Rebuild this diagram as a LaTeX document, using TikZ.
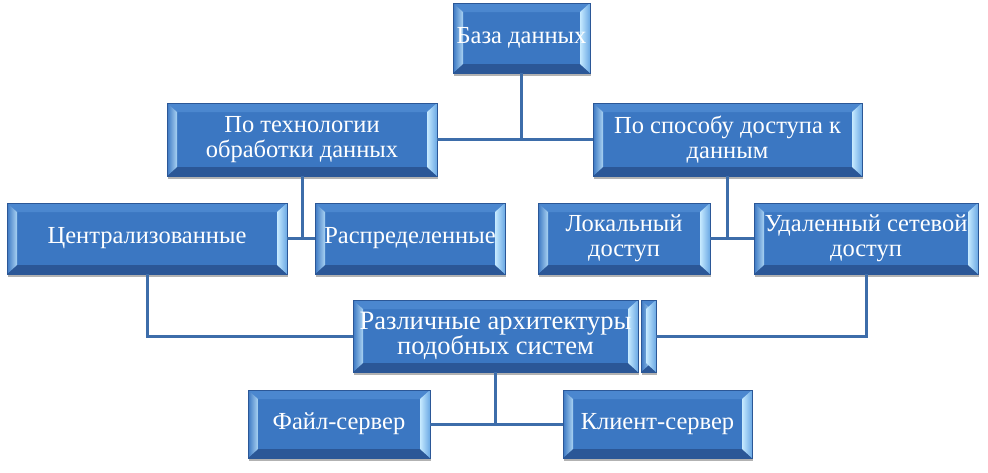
\documentclass[tikz,border=0pt]{standalone}
\usepackage{fontspec}
\setmainfont{Liberation Serif}
\usetikzlibrary{positioning,calc,shadows}
\definecolor{blkfill}{HTML}{3B77C2}
\definecolor{blktop}{HTML}{4B87CF}
\definecolor{blkbot}{HTML}{2B5797}
\definecolor{bevlite}{HTML}{C6EAFF}
\definecolor{bevmid}{HTML}{6AA8E4}
\definecolor{linkc}{HTML}{3D6DAA}

\begin{document}
\begin{tikzpicture}[x=1pt,y=-1pt,
  blk/.style={fill=blkfill,draw=blkbot,line width=0.6pt,text=white,
              font=\fontsize{24.5}{24.5}\selectfont,align=center,inner sep=0pt,
              drop shadow={shadow xshift=1pt,shadow yshift=-3pt,opacity=0.3,fill=black},
              path picture={
                \path (path picture bounding box.north west) coordinate (pa)
                      (path picture bounding box.north east) coordinate (pb)
                      (path picture bounding box.south east) coordinate (pc)
                      (path picture bounding box.south west) coordinate (pd);
                \fill[blktop] (pa) -- (pb) -- ($(pb)+(-10pt,-9pt)$) -- ($(pa)+(10pt,-9pt)$) -- cycle;
                \fill[blkbot] (pd) -- (pc) -- ($(pc)+(-10pt,9pt)$) -- ($(pd)+(10pt,9pt)$) -- cycle;
                \shade[left color=blkfill,right color=bevlite!80!blkfill]
                  (pa) -- ($(pa)+(10pt,-9pt)$) -- ($(pd)+(10pt,9pt)$) -- (pd) -- cycle;
                \shade[left color=bevlite,right color=bevmid]
                  (pb) -- ($(pb)+(-10pt,-9pt)$) -- ($(pc)+(-10pt,9pt)$) -- (pc) -- cycle;
              }},
  link/.style={draw=linkc,line width=3pt}]

  \useasboundingbox (0,0) rectangle (988,472);

  % levels
  \node[blk,minimum width=137pt,minimum height=70pt] (db) at (521.5,38) {База данных};
  \node[blk,minimum width=270pt,minimum height=73pt] (tech) at (302,139.5) {По технологии\\обработки данных};
  \node[blk,minimum width=269pt,minimum height=73pt] (acc) at (727.5,139.5) {По способу доступа к\\данным};
  \node[blk,minimum width=280pt,minimum height=71pt] (cen) at (147,238.5) {Централизованные};
  \node[blk,minimum width=190pt,minimum height=71pt] (dist) at (410,238.5) {Распределенные};
  \node[blk,minimum width=172pt,minimum height=71pt] (loc) at (624,238.5) {Локальный\\доступ};
  \node[blk,minimum width=224pt,minimum height=71pt] (rem) at (866,238.5) {Удаленный сетевой\\доступ};
  \node[blk,minimum width=285pt,minimum height=72pt,font=\fontsize{26.5}{23.5}\selectfont] (arch) at (495.5,336) {Различные архитектуры\\подобных систем};
  \node[blk,minimum width=15pt,minimum height=72pt] (archtab) at (648.5,336) {};
  \node[blk,minimum width=182pt,minimum height=68pt] (file) at (339,424) {Файл-сервер};
  \node[blk,minimum width=189pt,minimum height=68pt] (cli) at (657.5,424) {Клиент-сервер};

  % connectors
  \draw[link] (db) |- (tech);
  \draw[link] (db) |- (acc);
  \draw[link] (tech) |- (cen);
  \draw[link] (tech) |- (dist);
  \draw[link] (acc) |- (loc);
  \draw[link] (acc) |- (rem);
  \draw[link] (cen) |- (arch);
  \draw[link] (rem) |- (archtab);
  \draw[link] (arch) |- (file);
  \draw[link] (arch) |- (cli);
\end{tikzpicture}
\end{document}
